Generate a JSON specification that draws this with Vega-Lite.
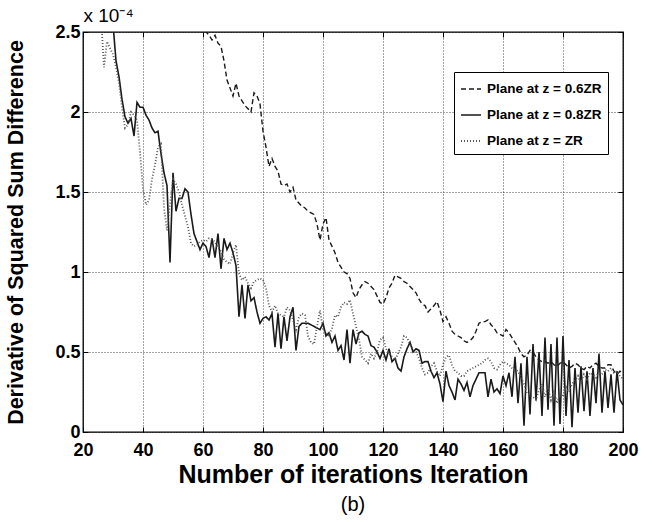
{
"$schema": "https://vega.github.io/schema/vega-lite/v6.json",
"width": 540, "height": 400,
"autosize": {"type": "none"},
"padding": {"left": 83, "top": 32, "right": 29, "bottom": 90},
"background": "white",
"title": {"text": "(b)", "orient": "bottom", "anchor": "middle", "fontSize": 20, "fontWeight": "normal", "offset": 8, "color": "#000"},
"config": {
  "font": "Liberation Sans",
  "view": {"stroke": "#000", "strokeWidth": 1.3},
  "axis": {"domain": false, "labelColor": "#000", "titleColor": "#000", "tickColor": "#000", "labelFont": "Liberation Sans", "titleFont": "Liberation Sans"}
},
"data": {"values": [
{"s":"0.8","x":29,"y":2.8},{"s":"0.8","x":30,"y":2.55},{"s":"0.8","x":31,"y":2.32},{"s":"0.8","x":32,"y":2.22},{"s":"0.8","x":33,"y":2.08},{"s":"0.8","x":34,"y":1.97},{"s":"0.8","x":35,"y":1.93},{"s":"0.8","x":36,"y":1.96},{"s":"0.8","x":37,"y":1.85},{"s":"0.8","x":38,"y":2.06},{"s":"0.8","x":39,"y":2.03},{"s":"0.8","x":40,"y":2.03},{"s":"0.8","x":41,"y":1.98},{"s":"0.8","x":42,"y":1.95},{"s":"0.8","x":43,"y":1.9},{"s":"0.8","x":44,"y":1.87},{"s":"0.8","x":45,"y":1.88},{"s":"0.8","x":46,"y":1.74},{"s":"0.8","x":47,"y":1.62},{"s":"0.8","x":48,"y":1.54},{"s":"0.8","x":49,"y":1.06},{"s":"0.8","x":50,"y":1.62},{"s":"0.8","x":51,"y":1.38},{"s":"0.8","x":52,"y":1.46},{"s":"0.8","x":53,"y":1.46},{"s":"0.8","x":54,"y":1.52},{"s":"0.8","x":55,"y":1.5},{"s":"0.8","x":56,"y":1.36},{"s":"0.8","x":57,"y":1.24},{"s":"0.8","x":58,"y":1.19},{"s":"0.8","x":59,"y":1.14},{"s":"0.8","x":60,"y":1.18},{"s":"0.8","x":61,"y":1.16},{"s":"0.8","x":62,"y":1.09},{"s":"0.8","x":63,"y":1.21},{"s":"0.8","x":64,"y":1.09},{"s":"0.8","x":65,"y":1.24},{"s":"0.8","x":66,"y":1.02},{"s":"0.8","x":67,"y":1.21},{"s":"0.8","x":68,"y":1.14},{"s":"0.8","x":69,"y":1.18},{"s":"0.8","x":70,"y":1.12},{"s":"0.8","x":71,"y":1.04},{"s":"0.8","x":72,"y":0.72},{"s":"0.8","x":73,"y":0.92},{"s":"0.8","x":74,"y":0.71},{"s":"0.8","x":75,"y":0.92},{"s":"0.8","x":76,"y":0.82},{"s":"0.8","x":77,"y":0.84},{"s":"0.8","x":78,"y":0.75},{"s":"0.8","x":79,"y":0.68},{"s":"0.8","x":80,"y":0.71},{"s":"0.8","x":81,"y":0.72},{"s":"0.8","x":82,"y":0.7},{"s":"0.8","x":83,"y":0.74},{"s":"0.8","x":84,"y":0.53},{"s":"0.8","x":85,"y":0.74},{"s":"0.8","x":86,"y":0.52},{"s":"0.8","x":87,"y":0.72},{"s":"0.8","x":88,"y":0.57},{"s":"0.8","x":89,"y":0.72},{"s":"0.8","x":90,"y":0.78},{"s":"0.8","x":91,"y":0.51},{"s":"0.8","x":92,"y":0.66},{"s":"0.8","x":93,"y":0.68},{"s":"0.8","x":94,"y":0.68},{"s":"0.8","x":95,"y":0.68},{"s":"0.8","x":96,"y":0.67},{"s":"0.8","x":97,"y":0.66},{"s":"0.8","x":98,"y":0.65},{"s":"0.8","x":99,"y":0.64},{"s":"0.8","x":100,"y":0.68},{"s":"0.8","x":101,"y":0.6},{"s":"0.8","x":102,"y":0.62},{"s":"0.8","x":103,"y":0.56},{"s":"0.8","x":104,"y":0.6},{"s":"0.8","x":105,"y":0.51},{"s":"0.8","x":106,"y":0.54},{"s":"0.8","x":107,"y":0.45},{"s":"0.8","x":108,"y":0.64},{"s":"0.8","x":109,"y":0.43},{"s":"0.8","x":110,"y":0.64},{"s":"0.8","x":111,"y":0.55},{"s":"0.8","x":112,"y":0.62},{"s":"0.8","x":113,"y":0.63},{"s":"0.8","x":114,"y":0.61},{"s":"0.8","x":115,"y":0.6},{"s":"0.8","x":116,"y":0.54},{"s":"0.8","x":117,"y":0.53},{"s":"0.8","x":118,"y":0.5},{"s":"0.8","x":119,"y":0.46},{"s":"0.8","x":120,"y":0.51},{"s":"0.8","x":121,"y":0.45},{"s":"0.8","x":122,"y":0.52},{"s":"0.8","x":123,"y":0.44},{"s":"0.8","x":124,"y":0.46},{"s":"0.8","x":125,"y":0.4},{"s":"0.8","x":126,"y":0.38},{"s":"0.8","x":127,"y":0.47},{"s":"0.8","x":128,"y":0.52},{"s":"0.8","x":129,"y":0.56},{"s":"0.8","x":130,"y":0.5},{"s":"0.8","x":131,"y":0.52},{"s":"0.8","x":132,"y":0.51},{"s":"0.8","x":133,"y":0.43},{"s":"0.8","x":134,"y":0.44},{"s":"0.8","x":135,"y":0.44},{"s":"0.8","x":136,"y":0.38},{"s":"0.8","x":137,"y":0.34},{"s":"0.8","x":138,"y":0.37},{"s":"0.8","x":139,"y":0.3},{"s":"0.8","x":140,"y":0.19},{"s":"0.8","x":141,"y":0.38},{"s":"0.8","x":142,"y":0.29},{"s":"0.8","x":143,"y":0.25},{"s":"0.8","x":144,"y":0.2},{"s":"0.8","x":145,"y":0.33},{"s":"0.8","x":146,"y":0.3},{"s":"0.8","x":147,"y":0.26},{"s":"0.8","x":148,"y":0.31},{"s":"0.8","x":149,"y":0.22},{"s":"0.8","x":150,"y":0.29},{"s":"0.8","x":151,"y":0.33},{"s":"0.8","x":152,"y":0.37},{"s":"0.8","x":153,"y":0.37},{"s":"0.8","x":154,"y":0.37},{"s":"0.8","x":155,"y":0.22},{"s":"0.8","x":156,"y":0.33},{"s":"0.8","x":157,"y":0.25},{"s":"0.8","x":158,"y":0.27},{"s":"0.8","x":159,"y":0.24},{"s":"0.8","x":160,"y":0.35},{"s":"0.8","x":161,"y":0.29},{"s":"0.8","x":162,"y":0.37},{"s":"0.8","x":163,"y":0.22},{"s":"0.8","x":164,"y":0.47},{"s":"0.8","x":165,"y":0.18},{"s":"0.8","x":166,"y":0.43},{"s":"0.8","x":167,"y":0.04},{"s":"0.8","x":168,"y":0.47},{"s":"0.8","x":169,"y":0.11},{"s":"0.8","x":170,"y":0.55},{"s":"0.8","x":171,"y":0.2},{"s":"0.8","x":172,"y":0.5},{"s":"0.8","x":173,"y":0.1},{"s":"0.8","x":174,"y":0.59},{"s":"0.8","x":175,"y":0.14},{"s":"0.8","x":176,"y":0.55},{"s":"0.8","x":177,"y":0.04},{"s":"0.8","x":178,"y":0.59},{"s":"0.8","x":179,"y":0.05},{"s":"0.8","x":180,"y":0.6},{"s":"0.8","x":181,"y":0.1},{"s":"0.8","x":182,"y":0.45},{"s":"0.8","x":183,"y":0.03},{"s":"0.8","x":184,"y":0.4},{"s":"0.8","x":185,"y":0.12},{"s":"0.8","x":186,"y":0.41},{"s":"0.8","x":187,"y":0.13},{"s":"0.8","x":188,"y":0.38},{"s":"0.8","x":189,"y":0.1},{"s":"0.8","x":190,"y":0.4},{"s":"0.8","x":191,"y":0.18},{"s":"0.8","x":192,"y":0.49},{"s":"0.8","x":193,"y":0.12},{"s":"0.8","x":194,"y":0.38},{"s":"0.8","x":195,"y":0.15},{"s":"0.8","x":196,"y":0.36},{"s":"0.8","x":197,"y":0.12},{"s":"0.8","x":198,"y":0.38},{"s":"0.8","x":199,"y":0.2},{"s":"0.8","x":200,"y":0.17},
{"s":"0.6","x":56,"y":2.9},{"s":"0.6","x":58,"y":2.7},{"s":"0.6","x":60,"y":2.56},{"s":"0.6","x":61,"y":2.5},{"s":"0.6","x":62,"y":2.48},{"s":"0.6","x":63,"y":2.45},{"s":"0.6","x":64,"y":2.48},{"s":"0.6","x":65,"y":2.43},{"s":"0.6","x":66,"y":2.41},{"s":"0.6","x":67,"y":2.32},{"s":"0.6","x":68,"y":2.2},{"s":"0.6","x":69,"y":2.15},{"s":"0.6","x":70,"y":2.1},{"s":"0.6","x":71,"y":2.18},{"s":"0.6","x":72,"y":2.1},{"s":"0.6","x":73,"y":2.07},{"s":"0.6","x":74,"y":2.04},{"s":"0.6","x":75,"y":2.02},{"s":"0.6","x":76,"y":2.0},{"s":"0.6","x":77,"y":2.12},{"s":"0.6","x":78,"y":2.1},{"s":"0.6","x":79,"y":2.05},{"s":"0.6","x":80,"y":1.88},{"s":"0.6","x":81,"y":1.78},{"s":"0.6","x":82,"y":1.66},{"s":"0.6","x":83,"y":1.71},{"s":"0.6","x":84,"y":1.66},{"s":"0.6","x":85,"y":1.63},{"s":"0.6","x":86,"y":1.55},{"s":"0.6","x":87,"y":1.54},{"s":"0.6","x":88,"y":1.55},{"s":"0.6","x":89,"y":1.5},{"s":"0.6","x":90,"y":1.53},{"s":"0.6","x":91,"y":1.45},{"s":"0.6","x":92,"y":1.43},{"s":"0.6","x":93,"y":1.41},{"s":"0.6","x":94,"y":1.4},{"s":"0.6","x":95,"y":1.38},{"s":"0.6","x":96,"y":1.37},{"s":"0.6","x":97,"y":1.36},{"s":"0.6","x":98,"y":1.3},{"s":"0.6","x":99,"y":1.2},{"s":"0.6","x":100,"y":1.3},{"s":"0.6","x":101,"y":1.34},{"s":"0.6","x":102,"y":1.2},{"s":"0.6","x":103,"y":1.16},{"s":"0.6","x":104,"y":1.12},{"s":"0.6","x":105,"y":1.06},{"s":"0.6","x":106,"y":1.03},{"s":"0.6","x":107,"y":1.0},{"s":"0.6","x":108,"y":0.99},{"s":"0.6","x":109,"y":0.96},{"s":"0.6","x":110,"y":0.87},{"s":"0.6","x":111,"y":0.84},{"s":"0.6","x":112,"y":0.89},{"s":"0.6","x":113,"y":0.92},{"s":"0.6","x":114,"y":0.94},{"s":"0.6","x":115,"y":0.93},{"s":"0.6","x":116,"y":0.91},{"s":"0.6","x":117,"y":0.89},{"s":"0.6","x":118,"y":0.85},{"s":"0.6","x":119,"y":0.81},{"s":"0.6","x":120,"y":0.8},{"s":"0.6","x":121,"y":0.84},{"s":"0.6","x":122,"y":0.9},{"s":"0.6","x":123,"y":0.93},{"s":"0.6","x":124,"y":0.98},{"s":"0.6","x":125,"y":0.97},{"s":"0.6","x":126,"y":0.96},{"s":"0.6","x":127,"y":0.94},{"s":"0.6","x":128,"y":0.93},{"s":"0.6","x":129,"y":0.91},{"s":"0.6","x":130,"y":0.89},{"s":"0.6","x":131,"y":0.87},{"s":"0.6","x":132,"y":0.83},{"s":"0.6","x":133,"y":0.8},{"s":"0.6","x":134,"y":0.79},{"s":"0.6","x":135,"y":0.75},{"s":"0.6","x":136,"y":0.77},{"s":"0.6","x":137,"y":0.79},{"s":"0.6","x":138,"y":0.815},{"s":"0.6","x":139,"y":0.76},{"s":"0.6","x":140,"y":0.69},{"s":"0.6","x":141,"y":0.72},{"s":"0.6","x":142,"y":0.68},{"s":"0.6","x":143,"y":0.63},{"s":"0.6","x":144,"y":0.61},{"s":"0.6","x":145,"y":0.6},{"s":"0.6","x":146,"y":0.59},{"s":"0.6","x":147,"y":0.57},{"s":"0.6","x":148,"y":0.56},{"s":"0.6","x":149,"y":0.57},{"s":"0.6","x":150,"y":0.59},{"s":"0.6","x":151,"y":0.63},{"s":"0.6","x":152,"y":0.68},{"s":"0.6","x":153,"y":0.69},{"s":"0.6","x":154,"y":0.69},{"s":"0.6","x":155,"y":0.7},{"s":"0.6","x":156,"y":0.67},{"s":"0.6","x":157,"y":0.65},{"s":"0.6","x":158,"y":0.62},{"s":"0.6","x":159,"y":0.61},{"s":"0.6","x":160,"y":0.6},{"s":"0.6","x":161,"y":0.64},{"s":"0.6","x":162,"y":0.62},{"s":"0.6","x":163,"y":0.59},{"s":"0.6","x":164,"y":0.56},{"s":"0.6","x":165,"y":0.53},{"s":"0.6","x":166,"y":0.49},{"s":"0.6","x":167,"y":0.47},{"s":"0.6","x":168,"y":0.48},{"s":"0.6","x":169,"y":0.51},{"s":"0.6","x":170,"y":0.5},{"s":"0.6","x":171,"y":0.47},{"s":"0.6","x":172,"y":0.45},{"s":"0.6","x":173,"y":0.44},{"s":"0.6","x":174,"y":0.44},{"s":"0.6","x":175,"y":0.43},{"s":"0.6","x":176,"y":0.44},{"s":"0.6","x":177,"y":0.42},{"s":"0.6","x":178,"y":0.41},{"s":"0.6","x":179,"y":0.43},{"s":"0.6","x":180,"y":0.44},{"s":"0.6","x":181,"y":0.42},{"s":"0.6","x":182,"y":0.4},{"s":"0.6","x":183,"y":0.41},{"s":"0.6","x":184,"y":0.43},{"s":"0.6","x":185,"y":0.42},{"s":"0.6","x":186,"y":0.4},{"s":"0.6","x":187,"y":0.39},{"s":"0.6","x":188,"y":0.41},{"s":"0.6","x":189,"y":0.4},{"s":"0.6","x":190,"y":0.42},{"s":"0.6","x":191,"y":0.43},{"s":"0.6","x":192,"y":0.41},{"s":"0.6","x":193,"y":0.4},{"s":"0.6","x":194,"y":0.4},{"s":"0.6","x":195,"y":0.42},{"s":"0.6","x":196,"y":0.42},{"s":"0.6","x":197,"y":0.38},{"s":"0.6","x":198,"y":0.36},{"s":"0.6","x":199,"y":0.38},{"s":"0.6","x":200,"y":0.37},
{"s":"1","x":26,"y":2.6},{"s":"1","x":27,"y":2.28},{"s":"1","x":28,"y":2.44},{"s":"1","x":29,"y":2.4},{"s":"1","x":30,"y":2.36},{"s":"1","x":31,"y":2.28},{"s":"1","x":32,"y":2.18},{"s":"1","x":33,"y":2.03},{"s":"1","x":34,"y":1.9},{"s":"1","x":35,"y":1.92},{"s":"1","x":36,"y":2.0},{"s":"1","x":37,"y":1.98},{"s":"1","x":38,"y":1.95},{"s":"1","x":39,"y":1.75},{"s":"1","x":40,"y":1.52},{"s":"1","x":41,"y":1.42},{"s":"1","x":42,"y":1.45},{"s":"1","x":43,"y":1.58},{"s":"1","x":44,"y":1.67},{"s":"1","x":45,"y":1.78},{"s":"1","x":46,"y":1.8},{"s":"1","x":47,"y":1.4},{"s":"1","x":48,"y":1.26},{"s":"1","x":49,"y":1.42},{"s":"1","x":50,"y":1.58},{"s":"1","x":51,"y":1.55},{"s":"1","x":52,"y":1.5},{"s":"1","x":53,"y":1.42},{"s":"1","x":54,"y":1.35},{"s":"1","x":55,"y":1.28},{"s":"1","x":56,"y":1.18},{"s":"1","x":57,"y":1.16},{"s":"1","x":58,"y":1.17},{"s":"1","x":59,"y":1.19},{"s":"1","x":60,"y":1.2},{"s":"1","x":61,"y":1.19},{"s":"1","x":62,"y":1.21},{"s":"1","x":63,"y":1.2},{"s":"1","x":64,"y":1.19},{"s":"1","x":65,"y":1.15},{"s":"1","x":66,"y":1.13},{"s":"1","x":67,"y":1.08},{"s":"1","x":68,"y":1.06},{"s":"1","x":69,"y":1.05},{"s":"1","x":70,"y":1.12},{"s":"1","x":71,"y":1.17},{"s":"1","x":72,"y":0.99},{"s":"1","x":73,"y":0.95},{"s":"1","x":74,"y":0.97},{"s":"1","x":75,"y":0.93},{"s":"1","x":76,"y":0.9},{"s":"1","x":77,"y":0.94},{"s":"1","x":78,"y":0.95},{"s":"1","x":79,"y":0.96},{"s":"1","x":80,"y":0.95},{"s":"1","x":81,"y":0.9},{"s":"1","x":82,"y":0.79},{"s":"1","x":83,"y":0.75},{"s":"1","x":84,"y":0.79},{"s":"1","x":85,"y":0.74},{"s":"1","x":86,"y":0.73},{"s":"1","x":87,"y":0.72},{"s":"1","x":88,"y":0.78},{"s":"1","x":89,"y":0.76},{"s":"1","x":90,"y":0.7},{"s":"1","x":91,"y":0.64},{"s":"1","x":92,"y":0.72},{"s":"1","x":93,"y":0.74},{"s":"1","x":94,"y":0.73},{"s":"1","x":95,"y":0.6},{"s":"1","x":96,"y":0.56},{"s":"1","x":97,"y":0.55},{"s":"1","x":98,"y":0.66},{"s":"1","x":99,"y":0.76},{"s":"1","x":100,"y":0.64},{"s":"1","x":101,"y":0.62},{"s":"1","x":102,"y":0.6},{"s":"1","x":103,"y":0.65},{"s":"1","x":104,"y":0.73},{"s":"1","x":105,"y":0.72},{"s":"1","x":106,"y":0.78},{"s":"1","x":107,"y":0.81},{"s":"1","x":108,"y":0.8},{"s":"1","x":109,"y":0.825},{"s":"1","x":110,"y":0.74},{"s":"1","x":111,"y":0.66},{"s":"1","x":112,"y":0.58},{"s":"1","x":113,"y":0.47},{"s":"1","x":114,"y":0.45},{"s":"1","x":115,"y":0.43},{"s":"1","x":116,"y":0.49},{"s":"1","x":117,"y":0.46},{"s":"1","x":118,"y":0.5},{"s":"1","x":119,"y":0.575},{"s":"1","x":120,"y":0.59},{"s":"1","x":121,"y":0.52},{"s":"1","x":122,"y":0.49},{"s":"1","x":123,"y":0.47},{"s":"1","x":124,"y":0.45},{"s":"1","x":125,"y":0.49},{"s":"1","x":126,"y":0.53},{"s":"1","x":127,"y":0.6},{"s":"1","x":128,"y":0.59},{"s":"1","x":129,"y":0.55},{"s":"1","x":130,"y":0.52},{"s":"1","x":131,"y":0.5},{"s":"1","x":132,"y":0.46},{"s":"1","x":133,"y":0.4},{"s":"1","x":134,"y":0.36},{"s":"1","x":135,"y":0.37},{"s":"1","x":136,"y":0.41},{"s":"1","x":137,"y":0.43},{"s":"1","x":138,"y":0.38},{"s":"1","x":139,"y":0.35},{"s":"1","x":140,"y":0.42},{"s":"1","x":141,"y":0.47},{"s":"1","x":142,"y":0.48},{"s":"1","x":143,"y":0.42},{"s":"1","x":144,"y":0.38},{"s":"1","x":145,"y":0.37},{"s":"1","x":146,"y":0.35},{"s":"1","x":147,"y":0.35},{"s":"1","x":148,"y":0.38},{"s":"1","x":149,"y":0.39},{"s":"1","x":150,"y":0.4},{"s":"1","x":151,"y":0.41},{"s":"1","x":152,"y":0.42},{"s":"1","x":153,"y":0.43},{"s":"1","x":154,"y":0.45},{"s":"1","x":155,"y":0.46},{"s":"1","x":156,"y":0.44},{"s":"1","x":157,"y":0.4},{"s":"1","x":158,"y":0.39},{"s":"1","x":159,"y":0.42},{"s":"1","x":160,"y":0.44},{"s":"1","x":161,"y":0.43},{"s":"1","x":162,"y":0.42},{"s":"1","x":163,"y":0.4},{"s":"1","x":164,"y":0.39},{"s":"1","x":165,"y":0.38},{"s":"1","x":166,"y":0.34},{"s":"1","x":167,"y":0.3},{"s":"1","x":168,"y":0.24},{"s":"1","x":169,"y":0.23},{"s":"1","x":170,"y":0.22},{"s":"1","x":171,"y":0.2},{"s":"1","x":172,"y":0.26},{"s":"1","x":173,"y":0.3},{"s":"1","x":174,"y":0.22},{"s":"1","x":175,"y":0.28},{"s":"1","x":176,"y":0.2},{"s":"1","x":177,"y":0.26},{"s":"1","x":178,"y":0.18},{"s":"1","x":179,"y":0.24},{"s":"1","x":180,"y":0.22},{"s":"1","x":181,"y":0.28},{"s":"1","x":182,"y":0.25},{"s":"1","x":183,"y":0.3},{"s":"1","x":184,"y":0.32},{"s":"1","x":185,"y":0.35},{"s":"1","x":186,"y":0.3},{"s":"1","x":187,"y":0.36},{"s":"1","x":188,"y":0.33},{"s":"1","x":189,"y":0.37},{"s":"1","x":190,"y":0.36},{"s":"1","x":191,"y":0.34},{"s":"1","x":192,"y":0.38},{"s":"1","x":193,"y":0.36},{"s":"1","x":194,"y":0.39},{"s":"1","x":195,"y":0.38},{"s":"1","x":196,"y":0.4},{"s":"1","x":197,"y":0.37},{"s":"1","x":198,"y":0.38},{"s":"1","x":199,"y":0.35},{"s":"1","x":200,"y":0.33}
]},
"layer": [
  {
    "mark": {"type": "line", "clip": true},
    "encoding": {
      "x": {"field": "x", "type": "quantitative", "scale": {"domain": [20, 200], "nice": false, "zero": false},
        "axis": {"orient": "bottom", "values": [20,40,60,80,100,120,140,160,180,200], "title": "Number of iterations Iteration",
          "labelFontSize": 18, "labelFontWeight": "bold", "titleFontSize": 25, "titleFontWeight": "bold",
          "grid": true, "gridColor": "#000", "gridDash": [1,2], "gridWidth": 0.8, "gridOpacity": 0.9,
          "ticks": true, "tickSize": -5, "tickWidth": 1, "labelPadding": 14, "titlePadding": 3, "labelFlush": false}},
      "y": {"field": "y", "type": "quantitative", "scale": {"domain": [0, 2.5], "nice": false},
        "axis": {"orient": "left", "values": [0,0.5,1,1.5,2,2.5], "labelExpr": "datum.value + ''", "title": "Derivative of Squared Sum Difference",
          "labelFontSize": 18, "labelFontWeight": "bold", "titleFontSize": 21.5, "titleFontWeight": "bold",
          "grid": true, "gridColor": "#000", "gridDash": [1,2], "gridWidth": 0.8, "gridOpacity": 0.9,
          "ticks": true, "tickSize": -5, "tickWidth": 1, "labelPadding": 8, "titlePadding": 27, "labelFlush": false}},
      "strokeDash": {"field": "s", "type": "nominal", "scale": {"domain": ["0.6", "0.8", "1"], "range": [[5, 3], [1, 0], [1, 2]]},
        "legend": {"orient": "none", "legendX": 371, "legendY": 40, "title": null, "strokeColor": "#000", "fillColor": "#fff", "padding": 6,
          "symbolType": "stroke", "symbolSize": 400, "labelFontSize": 13.5, "labelFontWeight": "bold", "labelColor": "#000", "rowPadding": 8, "labelOffset": 5,
          "labelExpr": "datum.label == '1' ? 'Plane at z = ZR' : 'Plane at z = ' + datum.label + 'ZR'"}},
      "strokeWidth": {"field": "s", "type": "nominal", "scale": {"domain": ["0.6", "0.8", "1"], "range": [1.4, 1.8, 1]}},
      "color": {"field": "s", "type": "nominal", "scale": {"domain": ["0.6", "0.8", "1"], "range": ["#1a1a1a", "#1a1a1a", "#555555"]}}
    }
  },
  {
    "mark": {"type": "line", "opacity": 0},
    "encoding": {
      "x": {"field": "x", "type": "quantitative", "scale": {"domain": [20, 200], "nice": false, "zero": false},
        "axis": {"orient": "top", "values": [20,40,60,80,100,120,140,160,180,200], "labels": false, "grid": false, "ticks": true, "tickSize": -5, "tickColor": "#000",
          "title": "x 10⁻⁴", "titleAnchor": "start", "titleAlign": "left", "titleFontSize": 19, "titleFontWeight": "normal", "titlePadding": 6}},
      "y": {"field": "y", "type": "quantitative", "scale": {"domain": [0, 2.5], "nice": false},
        "axis": {"orient": "right", "values": [0,0.5,1,1.5,2,2.5], "labels": false, "grid": false, "ticks": true, "tickSize": -5, "tickColor": "#000", "title": null}}
    }
  }
],
"resolve": {"axis": {"x": "independent", "y": "independent"}}
}
